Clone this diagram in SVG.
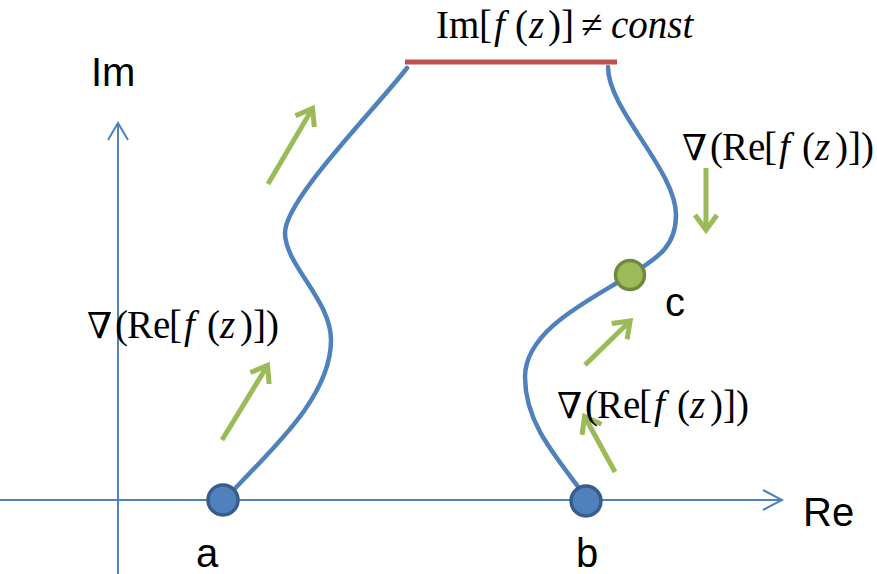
<svg xmlns="http://www.w3.org/2000/svg" width="877" height="574" viewBox="0 0 877 574">
<style>
.axis{stroke:#4F81BD;stroke-width:2;fill:none}
.curve{stroke:#4F81BD;stroke-width:4.5;fill:none;stroke-linecap:round}
.garrow{stroke:#9BBB59;stroke-width:5;fill:none;marker-end:url(#gh)}
.math{font-family:"Liberation Serif","Times New Roman",serif;font-size:39px;fill:#000}
.nabla{font-family:"DejaVu Serif","Liberation Serif",serif;font-size:36px}
.it{font-style:italic}
.sans{font-family:"Liberation Sans",Arial,sans-serif;font-size:40px;fill:#000}
.pt{fill:#4F81BD;stroke:#385D8A;stroke-width:3.5}
.ptc{fill:#9BBB59;stroke:#71893F;stroke-width:3.5}
</style>
<defs>
<marker id="gh" markerUnits="userSpaceOnUse" markerWidth="40" markerHeight="40" viewBox="-20 -20 40 40" refX="-3" refY="0" orient="auto" overflow="visible">
<path d="M-15,-11 L0,0 L-15,11" stroke="#9BBB59" stroke-width="5" fill="none"/>
</marker>
<text id="grad" class="math"><tspan x="0" class="nabla">∇</tspan><tspan x="28">(</tspan><tspan x="40">Re</tspan><tspan x="82">[</tspan><tspan x="97" class="it">f</tspan><tspan x="120">(</tspan><tspan x="133" class="it">z</tspan><tspan x="153">)</tspan><tspan x="166">]</tspan><tspan x="179">)</tspan></text>
</defs>
<g id="axes">
<line class="axis" x1="0" y1="500" x2="782" y2="500"/>
<polyline class="axis" points="763,490 782,500 763,510"/>
<line class="axis" x1="118" y1="574" x2="118" y2="123"/>
<polyline class="axis" points="108,140 118,123 128,140"/>
</g>
<g id="constline"><line x1="405" y1="62" x2="617" y2="62" stroke="#C0504D" stroke-width="5"/></g>
<g id="connectors">
<path class="curve" d="M228,496 C265,455 331,400 331,340 C331,300 285,265 285,233 C285,200 370,115 407,68"/>
<path class="curve" d="M586,497 C550,450 525,420 525,377 C525,330 590,300 630,275 C660,257 676,245 676,215 C676,170 608,110 608,67"/>
<line class="garrow" x1="268" y1="184" x2="311" y2="111"/>
<line class="garrow" x1="222" y1="440" x2="266" y2="368"/>
<line class="garrow" x1="585" y1="365" x2="628" y2="323"/>
<line class="garrow" x1="615" y1="472" x2="586" y2="419"/>
<line class="garrow" x1="706" y1="168" x2="706" y2="227"/>
</g>
<g id="node-a"><circle class="pt" cx="223" cy="500" r="15"/><text class="sans" x="196" y="567">a</text></g>
<g id="node-b"><circle class="pt" cx="586" cy="501" r="15"/><text class="sans" x="576" y="567">b</text></g>
<g id="node-c"><circle class="ptc" cx="630" cy="275" r="14.5"/><text class="sans" x="665" y="316">c</text></g>
<g id="labels">
<text class="sans" x="91" y="86">Im</text>
<text class="sans" x="803" y="526">Re</text>
<text class="math"><tspan x="436" y="38">Im</tspan><tspan x="479">[</tspan><tspan x="494" class="it">f</tspan><tspan x="515">(</tspan><tspan x="529" class="it">z</tspan><tspan x="548">)</tspan><tspan x="561">]</tspan><tspan x="581">≠</tspan><tspan x="611" class="it">const</tspan></text>
<use href="#grad" x="87" y="338"/>
<use href="#grad" x="682" y="160"/>
<use href="#grad" x="557" y="418"/>
</g>
</svg>
